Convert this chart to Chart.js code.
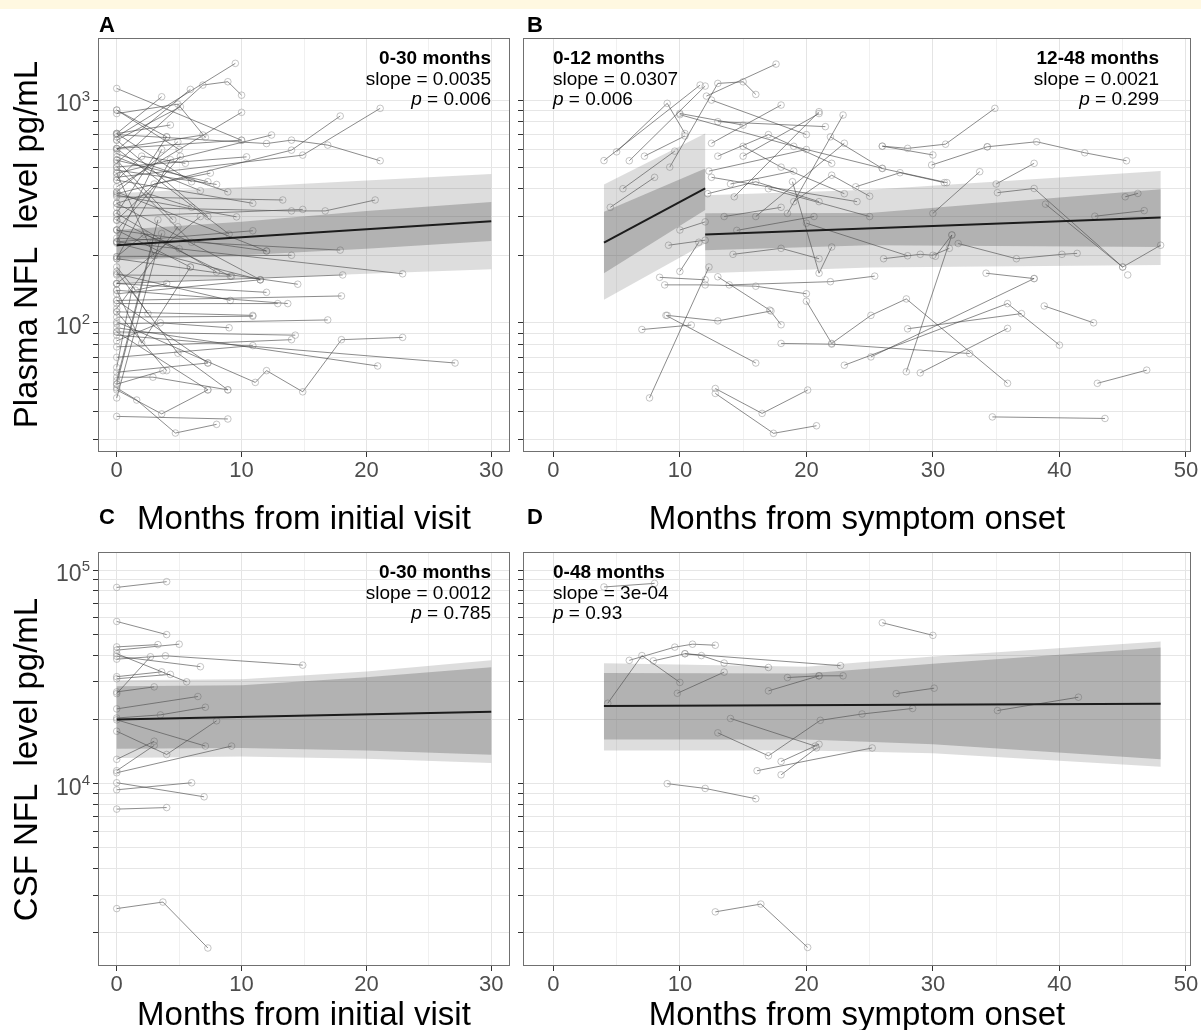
<!DOCTYPE html>
<html>
<head>
<meta charset="utf-8">
<script src="https://cdn.jsdelivr.net/npm/chart.js@4.4.0/dist/chart.umd.min.js"></script>
<style>
  body { margin: 0; width: 1201px; height: 1030px; background: #fff; position: relative; overflow: hidden;
         font-family: "Liberation Sans", Arial, sans-serif; }
  #strip { position: absolute; left: 0; top: 0; width: 1201px; height: 9px; background: #fff8e1; }
  canvas { position: absolute; }
  .lbl { position: absolute; font-weight: bold; font-size: 22px; line-height: 22px; color: #000; }
  .xt { position: absolute; width: 600px; font-size: 33px; line-height: 33px; text-align: center; color: #000; white-space: nowrap; }
  .yt { position: absolute; width: 600px; font-size: 33px; line-height: 33px; text-align: center; color: #000;
        white-space: pre; transform: rotate(-90deg); }
  .note { position: absolute; font-size: 19px; line-height: 20.5px; color: #000; white-space: nowrap; }
</style>
</head>
<body>
<div id="strip"></div>
<canvas id="panelA" width="520" height="470" style="left:0;top:30px"></canvas>
<canvas id="panelB" width="686" height="470" style="left:515px;top:30px"></canvas>
<canvas id="panelC" width="520" height="470" style="left:0;top:544px"></canvas>
<canvas id="panelD" width="686" height="470" style="left:515px;top:544px"></canvas>

<div class="lbl" style="left:99px;top:14px">A</div>
<div class="lbl" style="left:527px;top:14px">B</div>
<div class="lbl" style="left:99px;top:506px">C</div>
<div class="lbl" style="left:527px;top:506px">D</div>

<div class="xt" style="left:4px;top:501px">Months from initial visit</div>
<div class="xt" style="left:557px;top:501px">Months from symptom onset</div>
<div class="xt" style="left:4px;top:997px">Months from initial visit</div>
<div class="xt" style="left:557px;top:997px">Months from symptom onset</div>

<div class="yt" style="left:-275px;top:228px">Plasma NFL  level pg/mL</div>
<div class="yt" style="left:-275px;top:743px">CSF NFL  level pg/mL</div>

<div class="note" style="right:710px;top:48px;text-align:right"><b>0-30 months</b><br>slope = 0.0035<br><i>p</i> = 0.006</div>
<div class="note" style="left:553px;top:48px"><b>0-12 months</b><br>slope = 0.0307<br><i>p</i> = 0.006</div>
<div class="note" style="right:42px;top:48px;text-align:right"><b>12-48 months</b><br>slope = 0.0021<br><i>p</i> = 0.299</div>
<div class="note" style="right:710px;top:562px;text-align:right"><b>0-30 months</b><br>slope = 0.0012<br><i>p</i> = 0.785</div>
<div class="note" style="left:553px;top:562px"><b>0-48 months</b><br>slope = 3e-04<br><i>p</i> = 0.93</div>

<script>
// axis limits and ticks
const visitRange = [-1.5, 31.5];
const onsetRange = [-2.4, 50.4];
const plasmaRange = [26.3, 1900];
const csfRange = [1400, 121600];
const visitTicks = [0, 5, 10, 15, 20, 25, 30];
const onsetTicks = [0, 5, 10, 15, 20, 25, 30, 35, 40, 45, 50];

// subjects: month, value, month, value, ...
const plasmaVisit = [
  [0,1128, 10,660], [0,684, 9.5,1462], [0,521, 6.9,1168, 8.9,1209, 10,1052], [0,596, 5.9,1117],
  [0,870, 4.9,959, 7.1,680], [0,408, 10,881], [0,469, 12.4,697], [0,700, 12,638, 14,661, 16.9,628, 21.1,534],
  [0,380, 14,596, 17.9,848], [0,450, 14.9,566, 21.1,918], [0,501, 10.4,556], [0,368, 13.3,356],
  [0,374, 9.6,299], [0,330, 14,318, 16.7,318, 20.7,356], [0,300, 14.9,323], [0,240, 17.9,212],
  [0,231, 22.9,166], [0,150, 18.1,164], [0,126, 18,132], [0,99, 16.9,103], [0,194, 14.5,149],
  [0,101, 11.1,54, 12,61, 14.9,49, 18,84, 22.9,86], [0,88, 27.1,66], [0,95, 20.9,64], [0,38, 8.9,37],
  [0,51, 1.6,45, 4.7,32, 8,35], [0,50, 3.6,39, 7.3,50], [0,53, 3.7,61], [0,60, 7.3,66], [0,70, 10.9,79],
  [0,78, 14,84], [0,91, 14.3,88], [0,46, 3.6,252], [0,55, 3.3,290], [0,228, 11.5,156], [0,164, 9.2,162],
  [0,150, 12,137], [0,140, 13.7,122], [0,122, 12.9,122], [0,106, 10.9,107], [0,57, 2.9,57, 8.9,50],
  [0,140, 2,81, 5.9,178], [0,170, 4.9,73, 8.9,50], [0,261, 5.9,178], [0,261, 12,210], [0,198, 14,201],
  [0,231, 10.9,259], [0,289, 9.1,162], [0,310, 8,169], [0,344, 11.5,156], [0,387, 12,210],
  [0,437, 10.9,344], [0,485, 8,418], [0,537, 7.3,430], [0,556, 6.7,392], [0,575, 8.9,387],
  [0,606, 10,661], [0,661, 5.1,933], [0,708, 3.6,1035], [0,902, 4,684], [0,708, 4.3,773],
  [0,606, 6.9,697], [0,166, 9.1,126], [0,135, 11.5,156], [0,112, 10.9,108], [0,126, 7.3,66],
  [0,91, 7.3,50], [0,310, 4,684], [0,261, 5.1,560], [0,231, 3.6,600], [0,194, 4.3,540], [0,387, 4.9,650],
  [0,902, 5,600], [0,708, 6,430], [0,661, 7.3,300], [0,606, 9,250], [0,537, 4.5,290], [0,501, 6,230],
  [0,469, 3,200], [0,53, 2.9,230], [0,116, 4.9,270], [0,150, 6.7,300], [0,344, 2.5,380, 6,330],
  [0,289, 3,420, 7.5,470], [0,437, 2,560, 5.5,520], [0,198, 2.2,250, 5,215], [0,178, 1.5,140, 4,150],
  [0,63, 1.2,140, 2.5,110], [0,112, 4,61], [0,83, 3.5,100, 9,95]
];

const plasmaOnset = [
  [4,535, 11.6,1168], [6,534, 12,1156], [5,586, 9,967, 10.4,708], [9.2,500, 13,1188, 15,1208, 16,1060],
  [12.1,1042, 17.6,1451], [10,871, 15,772], [10,860, 19,620, 26,494], [14.3,368, 21,887],
  [18.5,310, 22.9,857], [26,621, 28,607, 31,634, 34.9,918], [26,621, 30,567],
  [34.3,617, 38.2,650, 42,580, 45.3,534], [29.9,511, 34.3,617], [35,420, 38,520],
  [35.1,384, 38,401, 45,178, 48,223], [38.9,341, 45,178], [42.8,301, 46.7,319], [45.2,368, 46.2,381],
  [45.4,164], [34.2,167, 38,158], [38.8,119, 42.7,100], [43,53.5, 46.9,61.3], [34.7,37.8, 43.6,37.2],
  [12.8,50.7, 16.5,39.2, 20.1,49.9], [12.8,48.2, 17.4,31.9, 20.8,34.5], [7.6,46, 12.3,178],
  [7,93.3, 10.9,97.7], [8.9,108, 16,66], [9,108, 13,102, 17.2,113], [18,80.8, 22,80.2, 32.9,72.8],
  [20,125, 22,80.8, 25.1,108, 27.9,128, 35.9,53.5], [23,64.5, 35.9,122, 40,79.4], [25.1,70.3, 38,158],
  [27.9,60.3, 31.5,248], [29,59.6, 35.9,94.4], [28,94, 37,110], [32,227, 36.6,194, 40.2,203, 41.4,205],
  [26.1,194, 29,203, 30,201, 31.3,216], [14.2,203, 18,216, 21,194], [8.4,160, 12,156],
  [8.8,148, 12,148, 16,146, 20,135], [13,161, 17.1,114, 18,98], [13.9,148, 21.9,153, 25.4,162],
  [9.1,223, 12,235], [10,261, 12,284], [18.9,430, 21,167, 22,219], [30.2,199, 31.5,248],
  [30,310, 33.7,477], [23.9,408, 27.4,472, 30.9,426], [21.9,684, 26,493, 31.1,426], [12.3,480, 20,600],
  [12.5,450, 24,350], [13,560, 17,700, 22,520], [14,420, 19,480], [15,620, 18,500, 23,380],
  [12.2,380, 16,430, 21,350], [16,300, 23,640], [17,400, 25,300], [19,350, 22,460, 25,370],
  [20,280, 28,200], [13.5,300, 18,330], [14.5,260, 20.6,300], [10,170, 11.5,230], [12.5,1000, 20,700],
  [13,800, 21.5,760], [12.5,640, 18,950], [15,560, 21,870], [7.2,560, 10.4,690], [5.5,400, 9.6,590],
  [4.5,330, 8,450]
];

const csfVisit = [
  [0,83000, 4,88300], [0,57500, 4,49900], [0,43700, 3.3,44800], [0,42200, 5,45000], [0,40600, 5.6,30000],
  [0,38300, 3.9,39700, 14.9,35900], [0,39500, 6.7,35300], [0,31700, 3.6,33400], [0,31000, 4.3,32500],
  [0,26900, 3,28400], [0,26400, 2.7,39300], [0,22400, 6.5,25600], [0,20300, 3.5,21000, 7.1,22800],
  [0,19900, 7.1,15000], [0,17600, 4,13700, 8,19700], [0,13000, 3,15800], [0,11500, 3,15100],
  [0,11250, 9.2,15000], [0,10100, 7,8680], [0,9360, 6,10100], [0,7600, 4,7730], [0,2600, 3.7,2790, 7.3,1700]
];

const csfOnset = [
  [4,83400, 8,86700], [26,56700, 30,49500], [4.3,23800, 7,39800, 10,29800],
  [6,37800, 9.6,43600, 11,45000, 12.8,44500], [7.9,37600, 10.4,40600, 11.7,39800, 13.5,36700, 17,35000],
  [10.4,40600, 22.7,35700], [9.8,26500, 13.5,33300], [18.5,31400, 21,32000, 22.9,32000], [17,27200, 21,32000],
  [27.1,26400, 30.1,28000], [35.1,22000, 41.5,25400], [14,20200, 20.7,15000],
  [13,17300, 17,13500, 21.1,19800, 24.4,21200, 28.4,22500], [18,12700, 21,15300], [18,11000, 20.8,14700],
  [16.1,11500, 25.2,14700], [9,10000, 12,9500, 16,8500], [12.8,2510, 16.4,2730, 20.1,1710]
];

// model fits and bands
const fitAx = [0, 30], fitAy = [223, 286];
const bandAx = [0, 10, 20, 30];
const bandAinLo = [191, 201, 215, 233], bandAinHi = [261, 284, 318, 349];
const bandAoutLo = [151, 158, 166, 174], bandAoutHi = [382, 407, 436, 466];

const fitB1x = [4, 12], fitB1y = [229, 401];
const bandB1x = [4, 12];
const bandB1inLo = [167, 321], bandB1inHi = [315, 493];
const bandB1outLo = [127, 227], bandB1outHi = [418, 708];

const fitB2x = [12, 48], fitB2y = [249, 297];
const bandB2x = [12, 25, 48];
const bandB2inLo = [212, 223, 219], bandB2inHi = [310, 311, 398];
const bandB2outLo = [167, 177, 182], bandB2outHi = [374, 396, 480];

const fitCx = [0, 30], fitCy = [20000, 21700];
const bandCx = [0, 10, 20, 30];
const bandCinLo = [14560, 14700, 14300, 13650], bandCinHi = [28600, 28900, 31500, 35100];
const bandCoutLo = [13200, 13400, 13100, 12480], bandCoutHi = [30500, 30800, 33500, 37800];

const fitDx = [4, 48], fitDy = [23100, 23700];
const bandDx = [4, 20, 30, 48];
const bandDinLo = [16100, 16100, 15300, 13000], bandDinHi = [33000, 32800, 36400, 43400];
const bandDoutLo = [14300, 14300, 13900, 12000], bandDoutHi = [36600, 35300, 39400, 46300];

Chart.defaults.font.family = '"Liberation Sans", Arial, sans-serif';

function logTicks(min, max) {
  const out = [];
  for (let k = Math.floor(Math.log10(min)); k <= Math.ceil(Math.log10(max)); k++) {
    for (let m = 1; m <= 9; m++) {
      const v = m * Math.pow(10, k);
      if (v >= min && v <= max) out.push(v);
    }
  }
  return out;
}

function isPow10(v) {
  const l = Math.log10(v);
  return Math.abs(l - Math.round(l)) < 1e-9;
}

function pts(xs, ys) {
  return xs.map((x, i) => ({ x: x, y: ys[i] }));
}

function band(xs, lo, hi, color, order) {
  const data = pts(xs, hi).concat(pts(xs, lo).reverse());
  return { data, showLine: true, fill: "shape", backgroundColor: color, borderWidth: 0, pointRadius: 0, order };
}

// panel border plus 10^k labels with a raised exponent
const frame = {
  id: "frame",
  afterDraw(chart, args, opts) {
    const a = chart.chartArea, ctx = chart.ctx;
    ctx.save();
    ctx.strokeStyle = "#707070";
    ctx.lineWidth = 1;
    ctx.strokeRect(Math.round(a.left) + 0.5, Math.round(a.top) + 0.5,
                   Math.round(a.right - a.left) - 1, Math.round(a.bottom - a.top) - 1);
    if (opts.powers) {
      const y = chart.scales.y;
      ctx.fillStyle = "#4d4d4d";
      ctx.textBaseline = "alphabetic";
      y.ticks.forEach(t => {
        if (!isPow10(t.value)) return;
        const py = y.getPixelForValue(t.value);
        const exp = String(Math.round(Math.log10(t.value)));
        ctx.font = '15px "Liberation Sans", Arial, sans-serif';
        const ew = ctx.measureText(exp).width;
        const right = y.right - 8;
        ctx.textAlign = "right";
        ctx.fillText(exp, right, py + 1);
        ctx.font = '23px "Liberation Sans", Arial, sans-serif';
        ctx.fillText("10", right - ew, py + 11);
      });
    }
    ctx.restore();
  }
};

function makePanel(id, subjects, xRange, xTicks, yRange, yLabels, yWidth, fits, bands) {
  const datasets = [];
  fits.forEach(f => datasets.push({
    data: pts(f[0], f[1]), showLine: true, borderColor: "#1c1c1c", borderWidth: 2, pointRadius: 0, order: 1
  }));
  bands.forEach(b => {
    datasets.push(band(b[0], b[1], b[2], "rgba(80,80,80,0.30)", 2));
    datasets.push(band(b[0], b[3], b[4], "rgba(100,100,100,0.22)", 3));
  });
  subjects.forEach(s => {
    const xs = [], ys = [];
    for (let i = 0; i < s.length; i += 2) { xs.push(s[i]); ys.push(s[i + 1]); }
    datasets.push({
      data: pts(xs, ys), showLine: true, borderColor: "rgba(70,70,70,0.62)", borderWidth: 1,
      pointRadius: 3.3, pointBorderWidth: 1, pointBorderColor: "rgba(150,150,150,0.55)",
      pointBackgroundColor: "rgba(0,0,0,0)", order: 4
    });
  });

  const yTickVals = logTicks(yRange[0], yRange[1]);

  new Chart(document.getElementById(id), {
    type: "scatter",
    data: { datasets },
    plugins: [frame],
    options: {
      responsive: false,
      animation: false,
      events: [],
      layout: { padding: { left: 0, top: 8, right: 10, bottom: 0 } },
      plugins: { legend: { display: false }, tooltip: { enabled: false }, frame: { powers: yLabels } },
      scales: {
        x: {
          type: "linear", min: xRange[0], max: xRange[1], bounds: "data",
          afterBuildTicks: s => { s.ticks = xTicks.map(v => ({ value: v })); },
          afterFit: s => { s.height = 48; s.paddingLeft = 0; s.paddingRight = 0; },
          ticks: {
            autoSkip: false, maxRotation: 0, padding: 1, color: "#4d4d4d", font: { size: 22 },
            callback: v => (v % 10 === 0 ? String(v) : "")
          },
          grid: {
            tickLength: 5,
            color: c => (c.tick && c.tick.value % 10 === 0 ? "#e4e4e4" : "#f0f0f0"),
            tickColor: c => (c.tick && c.tick.value % 10 === 0 ? "#333333" : "rgba(0,0,0,0)")
          },
          border: { display: false }
        },
        y: {
          type: "logarithmic", min: yRange[0], max: yRange[1], bounds: "data",
          afterBuildTicks: s => { s.ticks = yTickVals.map(v => ({ value: v })); },
          afterFit: s => { s.width = yWidth; s.paddingTop = 0; s.paddingBottom = 0; },
          ticks: { autoSkip: false, padding: 3, font: { size: 22 }, callback: () => "" },
          grid: { tickLength: 5, color: "#e6e6e6", tickColor: "#333333" },
          border: { display: false }
        }
      }
    }
  });
}

makePanel("panelA", plasmaVisit, visitRange, visitTicks, plasmaRange, true, 98,
  [[fitAx, fitAy]],
  [[bandAx, bandAinLo, bandAinHi, bandAoutLo, bandAoutHi]]);

makePanel("panelB", plasmaOnset, onsetRange, onsetTicks, plasmaRange, false, 8,
  [[fitB1x, fitB1y], [fitB2x, fitB2y]],
  [[bandB1x, bandB1inLo, bandB1inHi, bandB1outLo, bandB1outHi],
   [bandB2x, bandB2inLo, bandB2inHi, bandB2outLo, bandB2outHi]]);

makePanel("panelC", csfVisit, visitRange, visitTicks, csfRange, true, 98,
  [[fitCx, fitCy]],
  [[bandCx, bandCinLo, bandCinHi, bandCoutLo, bandCoutHi]]);

makePanel("panelD", csfOnset, onsetRange, onsetTicks, csfRange, false, 8,
  [[fitDx, fitDy]],
  [[bandDx, bandDinLo, bandDinHi, bandDoutLo, bandDoutHi]]);
</script>
</body>
</html>
